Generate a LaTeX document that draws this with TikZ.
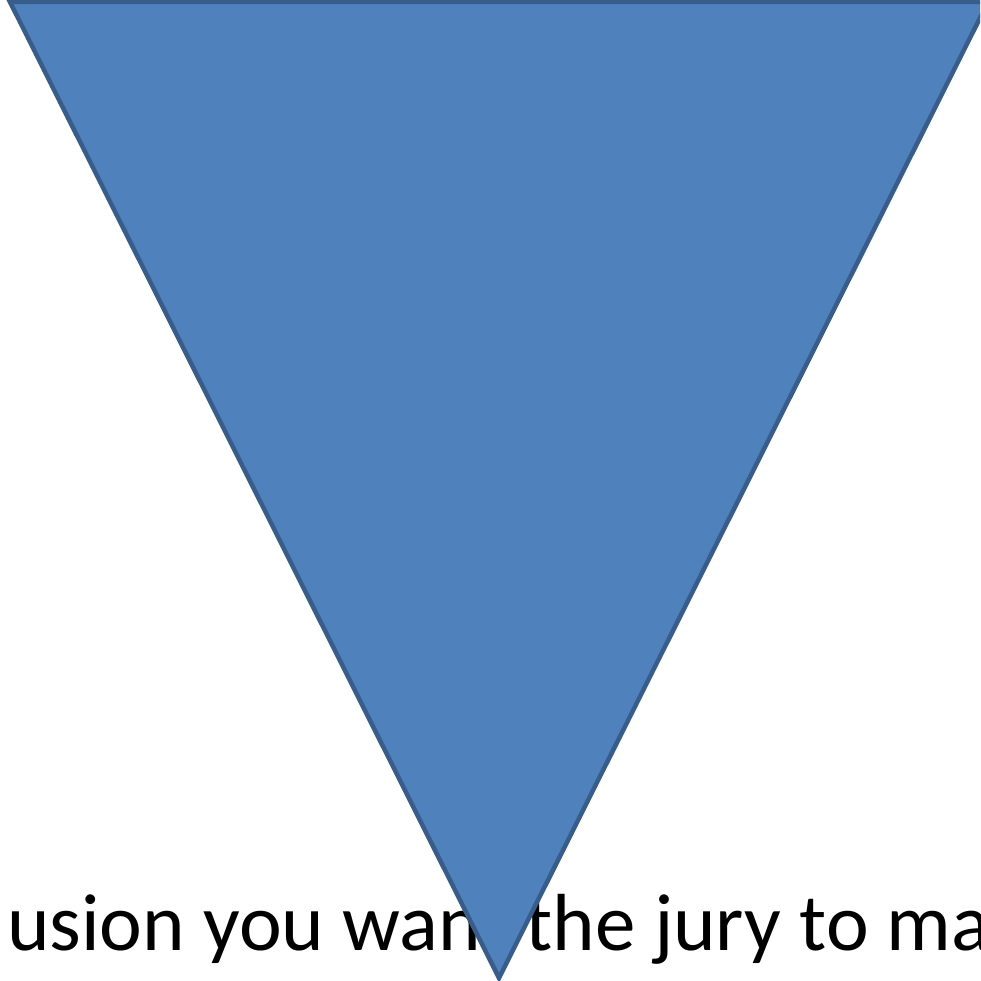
\documentclass[tikz,border=0pt]{standalone}
\usepackage{fontspec}
\setmainfont{Carlito}
\definecolor{tfill}{HTML}{4F81BD}
\definecolor{tline}{HTML}{385D8A}
\begin{document}
\begin{tikzpicture}[x=1pt,y=-1pt,
  tri/.style={fill=tfill,draw=tline,line width=4.5pt,line join=miter},
  caption/.style={inner sep=0pt,font=\fontsize{81}{97}\selectfont,text=black}]
\useasboundingbox (0,0) rectangle (980,981);
\clip (0,0) rectangle (980,981);
\node[caption,anchor=base west] (txt) at (7,950) {usion you want the jury to make};
\coordinate (tl) at (10,2);
\coordinate (tr) at (988,2);
\coordinate (bt) at (499,978);
\draw[tri] (tl) -- (tr) -- (bt) -- cycle;
\end{tikzpicture}
\end{document}
